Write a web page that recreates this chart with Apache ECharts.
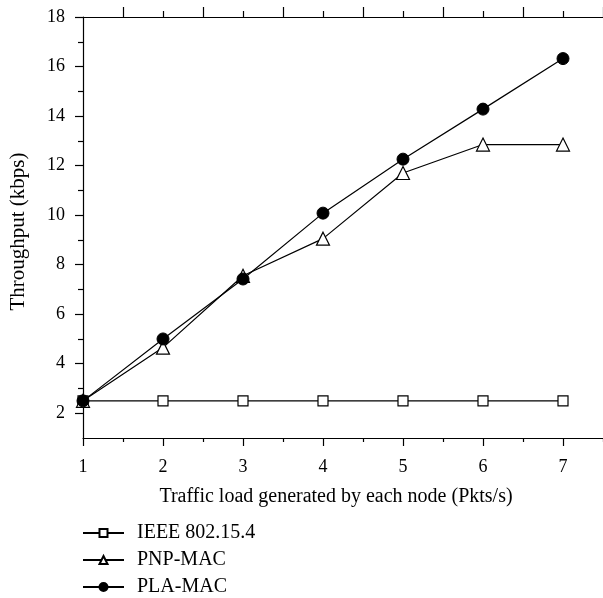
<!DOCTYPE html>
<html><head><meta charset="utf-8">
<script src="https://cdn.jsdelivr.net/npm/echarts@6/dist/echarts.min.js"></script>
<style>html,body{margin:0;padding:0;background:#fff}#c{width:603px;height:598px}</style>
</head><body><div id="c"></div>
<script>
var xValues = [1, 2, 3, 4, 5, 6, 7];
var ieee = [2.5, 2.5, 2.5, 2.5, 2.5, 2.5, 2.5];
var pnp = [2.5, 4.65, 7.55, 9.05, 11.7, 12.85, 12.85];
var pla = [2.5, 5.0, 7.42, 10.08, 12.26, 14.28, 16.32];
var seriesNames = ['IEEE 802.15.4', 'PNP-MAC', 'PLA-MAC'];
var yLabels = [2, 4, 6, 8, 10, 12, 14, 16, 18];
var yMinor = [3, 5, 7, 9, 11, 13, 15, 17];
var xMinor = [1.5, 2.5, 3.5, 4.5, 5.5, 6.5, 7.5];

var font = 'Liberation Serif';
function pairs(v){ return xValues.map(function(x,i){ return [x, v[i]]; }); }
var chart = echarts.init(document.getElementById('c'));
var axLine = {show: true, lineStyle: {color: '#000', width: 1.2}};
chart.setOption({
  animation: false,
  grid: {left: 82, top: 17, right: 0, bottom: 160, containLabel: false},
  legend: {
    orient: 'vertical', left: 82, top: 523, height: 75, padding: 0, itemWidth: 41, itemHeight: 10, itemGap: 7,
    textStyle: {fontFamily: font, fontSize: 20, lineHeight: 20, color: '#000', padding: [0, 0, 0, 8]},
    data: seriesNames
  },
  xAxis: [
    {type: 'value', position: 'bottom', min: 1, max: 7.5,
     axisLine: axLine, splitLine: {show: false},
     axisTick: {show: true, customValues: xValues, length: 8, inside: false, lineStyle: {color: '#000', width: 1.2}},
     axisLabel: {customValues: xValues, margin: 20, fontFamily: font, fontSize: 18, color: '#000'},
     name: 'Traffic load generated by each node (Pkts/s)', nameLocation: 'middle', nameGap: 49,
     nameTextStyle: {fontFamily: font, fontSize: 20, color: '#000', padding: [0, 14, 0, 0]}},
    {type: 'value', position: 'bottom', min: 1, max: 7.5, axisLine: {show: false}, splitLine: {show: false},
     axisLabel: {show: false},
     axisTick: {show: true, customValues: xMinor, length: 4, lineStyle: {color: '#000', width: 1.2}}},
    {type: 'value', position: 'top', min: 1, max: 7.5, axisLine: axLine, splitLine: {show: false},
     axisLabel: {show: false},
     axisTick: {show: true, customValues: xMinor, length: 10, lineStyle: {color: '#000', width: 1.2}}},
    {type: 'value', position: 'top', min: 1, max: 7.5, axisLine: {show: false}, splitLine: {show: false},
     axisLabel: {show: false},
     axisTick: {show: true, customValues: [2, 3, 4, 5, 6, 7], length: 6, lineStyle: {color: '#000', width: 1.2}}}
  ],
  yAxis: [
    {type: 'value', min: 1, max: 18, axisLine: axLine, splitLine: {show: false},
     axisTick: {show: true, customValues: yLabels, length: 8, lineStyle: {color: '#000', width: 1.2}},
     axisLabel: {customValues: yLabels, margin: 18, fontFamily: font, fontSize: 18, color: '#000'},
     name: 'Throughput (kbps)', nameLocation: 'middle', nameGap: 54, nameRotate: 90,
     nameTextStyle: {fontFamily: font, fontSize: 21, color: '#000', padding: [0, 8, 0, 0]}},
    {type: 'value', min: 1, max: 18, axisLine: {show: false}, splitLine: {show: false},
     position: 'left', axisLabel: {show: false},
     axisTick: {show: true, customValues: yMinor, length: 5, lineStyle: {color: '#000', width: 1.2}}}
  ],
  series: [
    {name: seriesNames[0], type: 'line', data: pairs(ieee), symbol: 'rect', symbolSize: 10,
     itemStyle: {color: '#fff', borderColor: '#000', borderWidth: 1.2}, lineStyle: {color: '#000', width: 1.2}, z: 3},
    {name: seriesNames[1], type: 'line', data: pairs(pnp), symbol: 'triangle', symbolSize: 13,
     itemStyle: {color: '#fff', borderColor: '#000', borderWidth: 1.2}, lineStyle: {color: '#000', width: 1.2}, z: 4},
    {name: seriesNames[2], type: 'line', data: pairs(pla), symbol: 'circle', symbolSize: 12,
     itemStyle: {color: '#000', borderColor: '#000', borderWidth: 1}, lineStyle: {color: '#000', width: 1.2}, z: 5}
  ]
});
</script></body></html>
